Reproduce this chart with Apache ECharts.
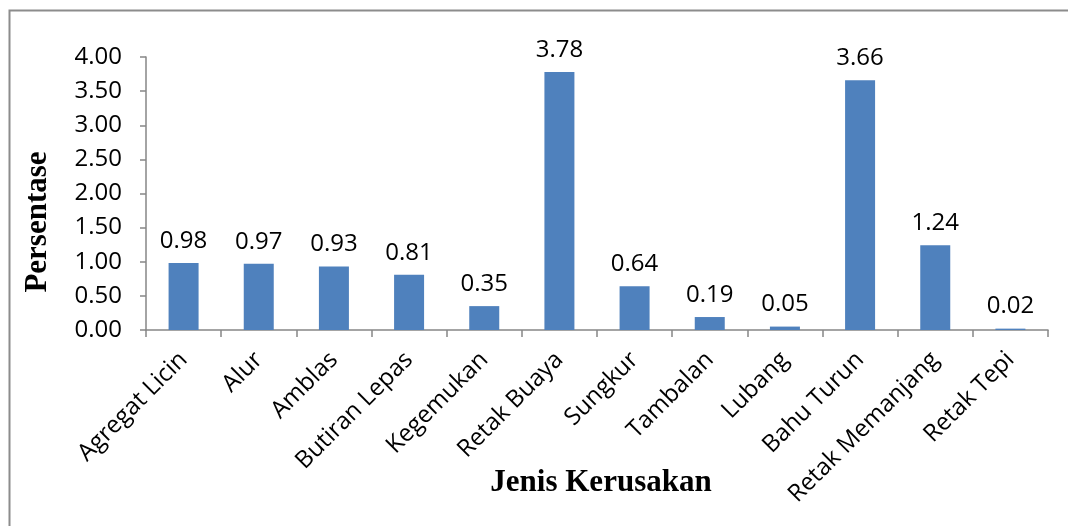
<!DOCTYPE html>
<html>
<head>
<meta charset="utf-8">
<script src="https://cdn.jsdelivr.net/npm/echarts@6/dist/echarts.min.js"></script>
<style>
html,body{margin:0;padding:0;background:#fff;}
#chart{width:1068px;height:526px;}
</style>
</head>
<body>
<div id="chart"></div>
<script>
const categories = ["Agregat Licin","Alur","Amblas","Butiran Lepas","Kegemukan","Retak Buaya","Sungkur","Tambalan","Lubang","Bahu Turun","Retak Memanjang","Retak Tepi"];
const values = [0.98,0.97,0.93,0.81,0.35,3.78,0.64,0.19,0.05,3.66,1.24,0.02];
const yTicks = {min:0, max:4, interval:0.5};
const xTitle = "Jenis Kerusakan";
const yTitle = "Persentase";

const chart = echarts.init(document.getElementById('chart'), null, {renderer:'canvas'});
const axisColor = '#868686';
const labelFont = '"Open Sans", sans-serif';
chart.setOption({
  animation:false,
  backgroundColor:'#fff',
  grid:{left:146, top:57, right:20, bottom:196, containLabel:false},
  xAxis:{
    type:'category',
    data:categories,
    axisLine:{lineStyle:{color:axisColor, width:1.5}},
    axisTick:{show:true, length:7, lineStyle:{color:axisColor, width:1.5}},
    axisLabel:{interval:0, rotate:45, margin:26, fontSize:24, color:'#000', fontFamily:labelFont}
  },
  yAxis:{
    type:'value',
    min:yTicks.min, max:yTicks.max, interval:yTicks.interval,
    splitLine:{show:false},
    axisLine:{show:true, lineStyle:{color:axisColor, width:1.5}},
    axisTick:{show:true, length:6, lineStyle:{color:axisColor, width:1.5}},
    axisLabel:{margin:24, fontSize:24, color:'#000', fontFamily:labelFont,
      formatter:v=>v.toFixed(2)}
  },
  series:[{
    type:'bar',
    data:values,
    barWidth:30,
    itemStyle:{color:'#4F81BD'},
    label:{show:true, position:'top', distance:10, fontSize:24, color:'#000', fontFamily:labelFont,
      formatter:p=>p.value.toFixed(2)}
  }],
  graphic:[
    {type:'rect', shape:{x:9.5, y:10.5, width:1200, height:800}, style:{fill:null, stroke:'#8c8c8c', lineWidth:2}, silent:true},
    {type:'text', x:601, y:483, style:{text:xTitle, font:'bold 31px "Liberation Serif", "Times New Roman", serif', fill:'#000', align:'center', verticalAlign:'middle'}},
    {type:'text', x:38, y:222, rotation:Math.PI/2, style:{text:yTitle, font:'bold 31px "Liberation Serif", "Times New Roman", serif', fill:'#000', align:'center', verticalAlign:'middle'}}
  ]
});
</script>
</body>
</html>
